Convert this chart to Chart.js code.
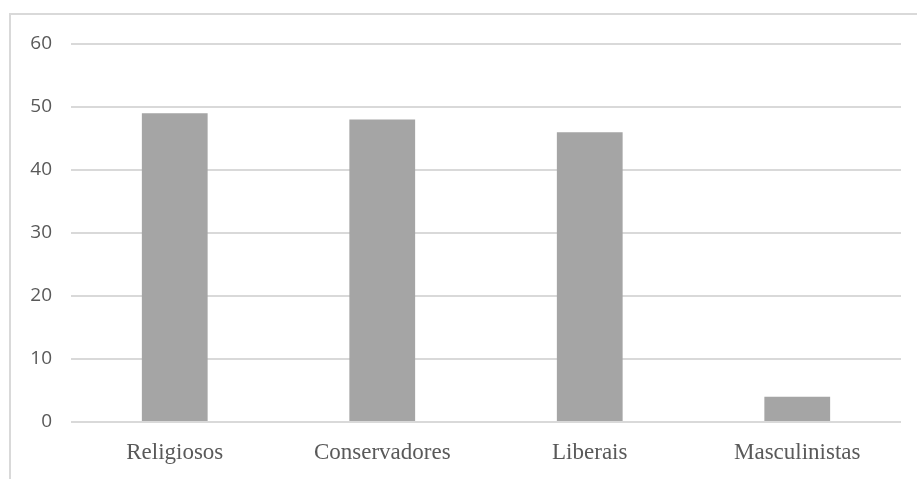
<!DOCTYPE html>
<html>
<head>
<meta charset="utf-8">
<script src="https://cdn.jsdelivr.net/npm/chart.js@4/dist/chart.umd.min.js"></script>
<style>
  html, body { margin: 0; padding: 0; background: #ffffff; }
  .frame {
    position: absolute; left: 9px; top: 13px; right: 0; bottom: 0;
    border-left: 2px solid #d9d9d9; border-top: 2px solid #d9d9d9;
  }
  .wrap { position: absolute; left: 0; top: 0; width: 917px; height: 479px; }
</style>
</head>
<body>
<div class="frame"></div>
<div class="wrap"><canvas id="grupos"></canvas></div>
<script>
const categorias = ['Religiosos', 'Conservadores', 'Liberais', 'Masculinistas']
const valores = [49, 48, 46, 4]
const eixoY = { min: 0, max: 60, passo: 10 }

const cinzaTexto = '#595959'

new Chart(document.getElementById('grupos'), {
    type: 'bar',
    data: {
        labels: categorias,
        datasets: [{
            data: valores,
            backgroundColor: '#a5a5a5',
            borderWidth: 0,
            barPercentage: 1,
            categoryPercentage: 0.317
        }]
    },
    options: {
        responsive: true,
        maintainAspectRatio: false,
        animation: false,
        layout: { padding: { top: 44, right: 16, bottom: 0, left: 0 } },
        plugins: {
            legend: { display: false },
            tooltip: { enabled: false }
        },
        scales: {
            x: {
                grid: { display: false, drawTicks: false },
                border: { display: false },
                ticks: {
                    color: cinzaTexto,
                    padding: 17,
                    font: { family: 'Liberation Serif', size: 23 }
                },
                afterFit: (s) => { s.height = 57 }
            },
            y: {
                min: eixoY.min,
                max: eixoY.max,
                grid: { color: '#d9d9d9', lineWidth: 2, drawTicks: false },
                border: { display: false },
                ticks: {
                    stepSize: eixoY.passo,
                    color: cinzaTexto,
                    padding: 19,
                    font: { family: 'Open Sans', size: 19 }
                },
                afterFit: (s) => { s.width = 71 }
            }
        }
    }
})
</script>
</body>
</html>
